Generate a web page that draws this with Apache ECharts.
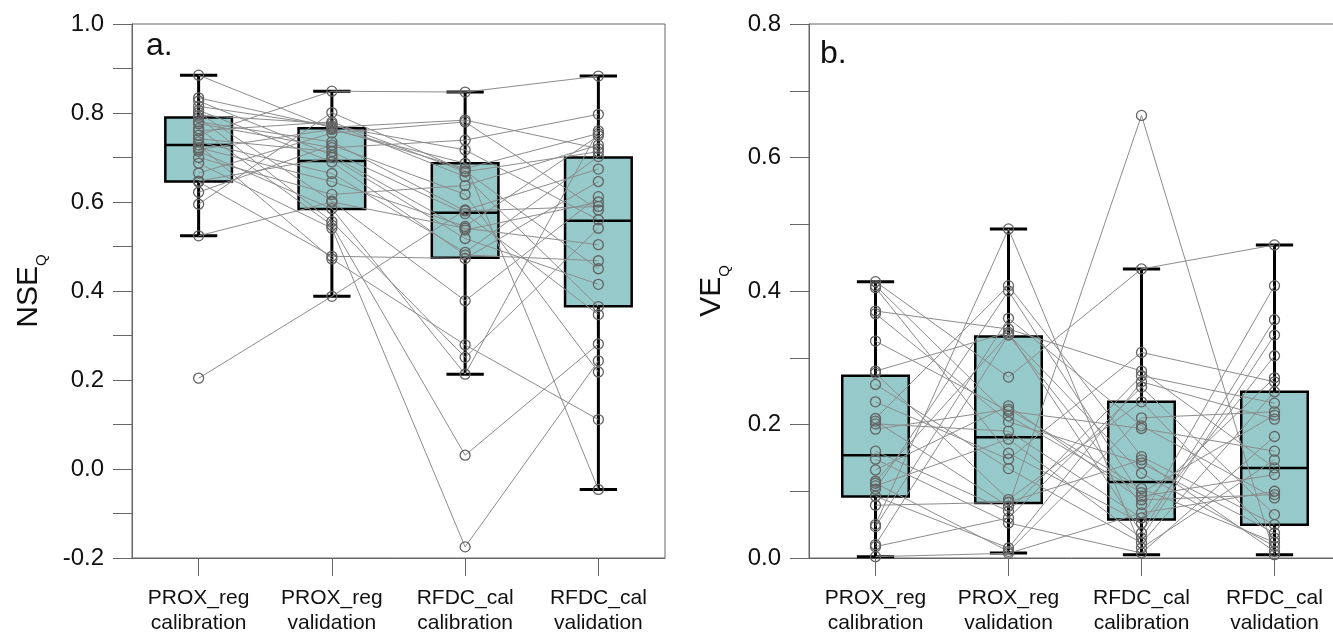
<!DOCTYPE html>
<html><head><meta charset="utf-8">
<script src="https://cdn.jsdelivr.net/npm/echarts@6/dist/echarts.min.js"></script>
<style>html,body{margin:0;padding:0;background:#fff}#c{width:1333px;height:635px}</style>
</head><body><div id="c"></div>
<script>
// ---- categories ----
const categories = ['PROX_reg\ncalibration', 'PROX_reg\nvalidation', 'RFDC_cal\ncalibration', 'RFDC_cal\nvalidation'];

// ---- panel a: NSE_Q, one entry per catchment (same order in every array) ----
const nseProxCal = [0.885,0.834,0.827,0.815,0.806,0.801,0.795,0.790,0.780,0.776,0.765,0.760,0.750,0.742,0.735,0.728,0.722,0.718,0.714,0.700,0.687,0.665,0.647,0.645,0.622,0.595,0.524,0.204];
const nseProxVal = [0.765,0.768,0.705,0.771,0.690,0.602,0.776,0.556,0.735,0.722,0.548,0.780,0.849,0.713,0.664,0.472,0.646,0.763,0.585,0.617,0.541,0.755,0.700,0.478,0.728,0.801,0.600,0.388];
const nseRfdcCal = [0.675,0.784,0.537,0.717,0.481,0.378,0.657,0.251,0.580,0.739,0.031,0.668,0.847,0.574,0.487,0.279,0.545,0.687,0.213,0.637,-0.175,0.780,0.518,0.473,0.617,0.670,0.541,0.582];
const nseRfdcVal = [0.754,0.720,0.600,0.560,0.468,0.612,0.365,0.541,0.590,0.797,0.281,0.713,0.883,0.347,0.702,0.111,0.749,-0.046,0.760,0.728,0.243,0.582,0.415,0.646,0.218,0.450,0.504,0.674];
// box statistics [whisker low, Q1, median, Q3, whisker high]
const nseBoxProxCal = [0.524, 0.646, 0.728, 0.790, 0.885];
const nseBoxProxVal = [0.388, 0.584, 0.692, 0.766, 0.849];
const nseBoxRfdcCal = [0.213, 0.475, 0.576, 0.687, 0.847];
const nseBoxRfdcVal = [-0.046, 0.366, 0.558, 0.700, 0.883];

// ---- panel b: VE_Q ----
const veProxCal = [0.414,0.408,0.405,0.370,0.366,0.325,0.280,0.277,0.260,0.234,0.209,0.205,0.201,0.193,0.160,0.148,0.132,0.115,0.112,0.108,0.103,0.0925,0.079,0.050,0.047,0.020,0.017,0.002];
const veProxVal = [0.271,0.213,0.157,0.343,0.204,0.220,0.338,0.0875,0.134,0.148,0.408,0.0775,0.190,0.223,0.070,0.0525,0.228,0.335,0.010,0.178,0.400,0.015,0.0835,0.493,0.359,0.334,0.060,0.007];
const veRfdcCal = [0.433,0.098,0.0525,0.280,0.142,0.194,0.0375,0.234,0.0225,0.308,0.152,0.663,0.060,0.104,0.273,0.0075,0.087,0.127,0.210,0.030,0.0925,0.264,0.147,0.015,0.198,0.080,0.256,0.0675];
const veRfdcVal = [0.469,0.214,0.303,0.135,0.0375,0.160,0.357,0.030,0.249,0.264,0.050,0.005,0.408,0.0235,0.232,0.182,0.095,0.0175,0.219,0.334,0.125,0.208,0.010,0.147,0.090,0.270,0.065,0.100];
const veBoxProxCal = [0.002, 0.092, 0.154, 0.273, 0.414];
const veBoxProxVal = [0.0075, 0.0825, 0.181, 0.332, 0.493];
const veBoxRfdcCal = [0.005, 0.0575, 0.114, 0.234, 0.433];
const veBoxRfdcVal = [0.005, 0.050, 0.135, 0.249, 0.469];

// ---- y-axis ticks ----
const nseAxis = {min: -0.2, max: 1.0, step: 0.1};
const veAxis = {min: 0.0, max: 0.8, step: 0.1};

const FONT = '"Liberation Sans", Arial, sans-serif';
const BOX_FILL = '#96CACA';

function boxRender(params, api) {
  const x = api.value(0);
  const lo = api.coord([x, api.value(1)]);
  const q1 = api.coord([x, api.value(2)]);
  const md = api.coord([x, api.value(3)]);
  const q3 = api.coord([x, api.value(4)]);
  const hi = api.coord([x, api.value(5)]);
  const band = api.size([1, 0])[0];
  const bw = band * 0.5, cw = band * 0.28;
  const cx = md[0];
  const s = {stroke: '#000', lineWidth: 3};
  return {type: 'group', children: [
    {type: 'line', shape: {x1: cx, y1: hi[1], x2: cx, y2: q3[1]}, style: s},
    {type: 'line', shape: {x1: cx, y1: q1[1], x2: cx, y2: lo[1]}, style: s},
    {type: 'line', shape: {x1: cx - cw / 2, y1: hi[1], x2: cx + cw / 2, y2: hi[1]}, style: s},
    {type: 'line', shape: {x1: cx - cw / 2, y1: lo[1], x2: cx + cw / 2, y2: lo[1]}, style: s},
    {type: 'rect', shape: {x: cx - bw / 2, y: q3[1], width: bw, height: q1[1] - q3[1]}, style: {fill: BOX_FILL, stroke: '#000', lineWidth: 2.5}},
    {type: 'line', shape: {x1: cx - bw / 2, y1: md[1], x2: cx + bw / 2, y2: md[1]}, style: {stroke: '#000', lineWidth: 2.5}}
  ]};
}

function tickFmt(v) {
  const k = Math.round(v * 10);
  return (k % 2 === 0) ? (k / 10).toFixed(1) : '';
}

function yAxisDef(idx, ax, nameMain, gap) {
  return {
    type: 'value', gridIndex: idx, min: ax.min, max: ax.max, interval: ax.step,
    splitLine: {show: false},
    axisLine: {show: true, onZero: false, lineStyle: {color: '#666', width: 1}},
    axisTick: {show: true, inside: false, length: 19, lineStyle: {color: '#666'}},
    axisLabel: {formatter: tickFmt, fontFamily: FONT, fontSize: 24, color: '#111', margin: 28},
    name: '{m|' + nameMain + '}{s|Q}', nameLocation: 'middle', nameRotate: 90, nameGap: gap,
    nameTextStyle: {rich: {
      m: {fontFamily: FONT, fontSize: 30, color: '#111', lineHeight: 34},
      s: {fontFamily: FONT, fontSize: 15, color: '#111', lineHeight: 34, verticalAlign: 'bottom', padding: [0, 0, -3, 0]}
    }}
  };
}

function xAxisDef(idx) {
  return {
    type: 'category', gridIndex: idx, data: categories, boundaryGap: true,
    axisLine: {show: true, onZero: false, lineStyle: {color: '#666', width: 1}},
    axisTick: {show: true, alignWithLabel: true, length: 18, lineStyle: {color: '#666'}},
    axisLabel: {fontFamily: FONT, fontSize: 21, lineHeight: 25, color: '#111', margin: 28, interval: 0},
    splitLine: {show: false}
  };
}

function panelSeries(idx, cols, boxes) {
  const out = [];
  out.push({
    type: 'custom', xAxisIndex: idx, yAxisIndex: idx, renderItem: boxRender, z: 1, silent: true,
    data: boxes.map((b, i) => [i].concat(b))
  });
  const n = cols[0].length;
  for (let i = 0; i < n; i++) {
    out.push({
      type: 'line', xAxisIndex: idx, yAxisIndex: idx, z: 3, silent: true,
      data: cols.map(c => c[i]),
      symbol: 'circle', symbolSize: 10, showSymbol: true,
      itemStyle: {color: 'rgba(0,0,0,0)', borderColor: '#636363', borderWidth: 1.3},
      lineStyle: {color: '#8c8c8c', width: 1}
    });
  }
  return out;
}

const chart = echarts.init(document.getElementById('c'), null, {renderer: 'canvas'});
chart.setOption({
  animation: false,
  backgroundColor: '#fff',
  grid: [
    {left: 132, top: 24, width: 533, height: 534, show: true, borderColor: '#666', borderWidth: 1, backgroundColor: 'transparent', outerBoundsMode: 'none', containLabel: false},
    {left: 809, top: 24, width: 532, height: 534, show: true, borderColor: '#666', borderWidth: 1, backgroundColor: 'transparent', outerBoundsMode: 'none', containLabel: false}
  ],
  xAxis: [xAxisDef(0), xAxisDef(1)],
  yAxis: [yAxisDef(0, nseAxis, 'NSE', 86), yAxisDef(1, veAxis, 'VE', 80)],
  graphic: [
    {type: 'text', left: 146, top: 30, style: {text: 'a.', font: '32px ' + FONT, fill: '#111'}},
    {type: 'text', left: 820, top: 38, style: {text: 'b.', font: '32px ' + FONT, fill: '#111'}}
  ],
  series: panelSeries(0, [nseProxCal, nseProxVal, nseRfdcCal, nseRfdcVal], [nseBoxProxCal, nseBoxProxVal, nseBoxRfdcCal, nseBoxRfdcVal])
    .concat(panelSeries(1, [veProxCal, veProxVal, veRfdcCal, veRfdcVal], [veBoxProxCal, veBoxProxVal, veBoxRfdcCal, veBoxRfdcVal]))
});
</script></body></html>
